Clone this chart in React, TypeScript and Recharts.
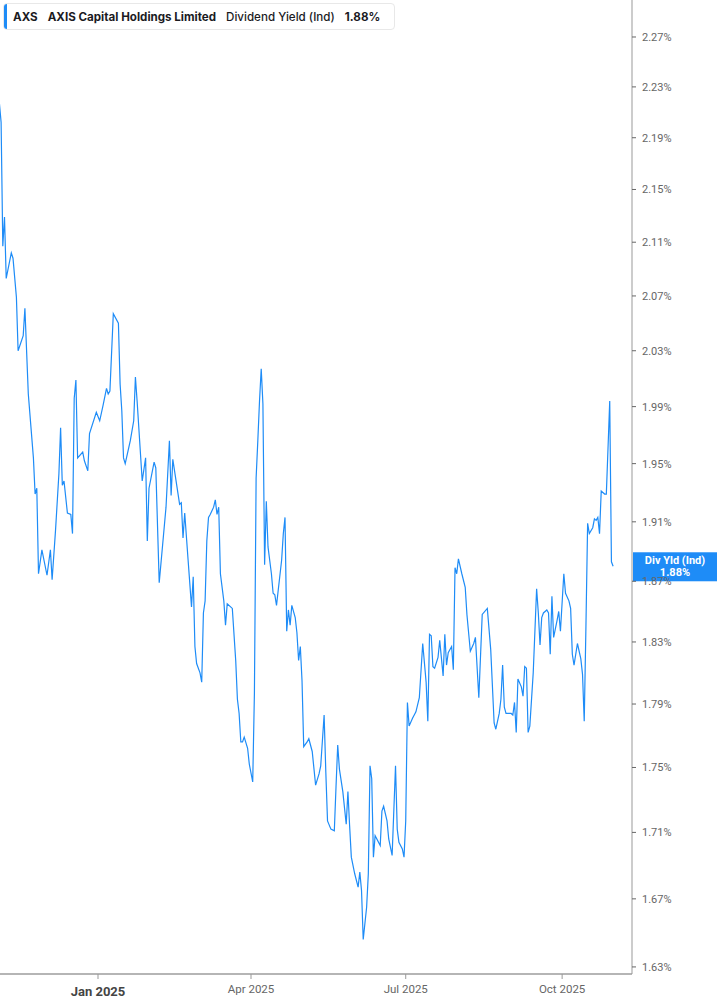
import { LineChart, Line, XAxis, YAxis, ReferenceLine } from 'recharts';

const dates = [
  '2024-11-04', '2024-11-05', '2024-11-06', '2024-11-07', '2024-11-08', '2024-11-11', '2024-11-12', '2024-11-14',
  '2024-11-15', '2024-11-18', '2024-11-19', '2024-11-21', '2024-11-24', '2024-11-25', '2024-11-26', '2024-11-27',
  '2024-11-29', '2024-12-02', '2024-12-04', '2024-12-05', '2024-12-07', '2024-12-09', '2024-12-10', '2024-12-11',
  '2024-12-12', '2024-12-14', '2024-12-16', '2024-12-17', '2024-12-18', '2024-12-19', '2024-12-20', '2024-12-23',
  '2024-12-24', '2024-12-26', '2024-12-27', '2024-12-31', '2025-01-02', '2025-01-04', '2025-01-06', '2025-01-07',
  '2025-01-08', '2025-01-10', '2025-01-13', '2025-01-14', '2025-01-15', '2025-01-16', '2025-01-17', '2025-01-20',
  '2025-01-22', '2025-01-23', '2025-01-24', '2025-01-27', '2025-01-29', '2025-01-30', '2025-01-31', '2025-02-03',
  '2025-02-04', '2025-02-06', '2025-02-10', '2025-02-12', '2025-02-13', '2025-02-14', '2025-02-18', '2025-02-19',
  '2025-02-20', '2025-02-21', '2025-02-23', '2025-02-25', '2025-02-26', '2025-02-27', '2025-02-28', '2025-03-02',
  '2025-03-03', '2025-03-04', '2025-03-05', '2025-03-06', '2025-03-07', '2025-03-08', '2025-03-10', '2025-03-11',
  '2025-03-12', '2025-03-13', '2025-03-14', '2025-03-16', '2025-03-17', '2025-03-18', '2025-03-20', '2025-03-21',
  '2025-03-23', '2025-03-24', '2025-03-25', '2025-03-26', '2025-03-27', '2025-03-28', '2025-03-30', '2025-03-31',
  '2025-04-02', '2025-04-03', '2025-04-04', '2025-04-05', '2025-04-06', '2025-04-07', '2025-04-08', '2025-04-09',
  '2025-04-10', '2025-04-11', '2025-04-13', '2025-04-14', '2025-04-15', '2025-04-16', '2025-04-17', '2025-04-19',
  '2025-04-20', '2025-04-21', '2025-04-22', '2025-04-23', '2025-04-24', '2025-04-25', '2025-04-27', '2025-04-28',
  '2025-04-29', '2025-04-30', '2025-05-01', '2025-05-02', '2025-05-04', '2025-05-05', '2025-05-07', '2025-05-09',
  '2025-05-11', '2025-05-12', '2025-05-14', '2025-05-15', '2025-05-16', '2025-05-18', '2025-05-20', '2025-05-21',
  '2025-05-22', '2025-05-23', '2025-05-25', '2025-05-27', '2025-05-28', '2025-05-29', '2025-05-30', '2025-06-01',
  '2025-06-03', '2025-06-04', '2025-06-05', '2025-06-06', '2025-06-08', '2025-06-09', '2025-06-10', '2025-06-11',
  '2025-06-12', '2025-06-13', '2025-06-16', '2025-06-17', '2025-06-18', '2025-06-20', '2025-06-21', '2025-06-23',
  '2025-06-25', '2025-06-26', '2025-06-27', '2025-06-29', '2025-06-30', '2025-07-01', '2025-07-02', '2025-07-03',
  '2025-07-05', '2025-07-07', '2025-07-09', '2025-07-11', '2025-07-13', '2025-07-14', '2025-07-15', '2025-07-16',
  '2025-07-17', '2025-07-18', '2025-07-20', '2025-07-21', '2025-07-23', '2025-07-24', '2025-07-25', '2025-07-26',
  '2025-07-28', '2025-07-29', '2025-07-30', '2025-07-31', '2025-08-01', '2025-08-03', '2025-08-05', '2025-08-06',
  '2025-08-08', '2025-08-10', '2025-08-11', '2025-08-13', '2025-08-15', '2025-08-18', '2025-08-20', '2025-08-22',
  '2025-08-23', '2025-08-25', '2025-08-26', '2025-08-27', '2025-08-28', '2025-08-29', '2025-08-30', '2025-09-01',
  '2025-09-02', '2025-09-03', '2025-09-04', '2025-09-05', '2025-09-07', '2025-09-08', '2025-09-09', '2025-09-10',
  '2025-09-11', '2025-09-12', '2025-09-14', '2025-09-16', '2025-09-17', '2025-09-18', '2025-09-19', '2025-09-20',
  '2025-09-22', '2025-09-23', '2025-09-24', '2025-09-25', '2025-09-26', '2025-09-28', '2025-09-29', '2025-09-30',
  '2025-10-02', '2025-10-03', '2025-10-05', '2025-10-06', '2025-10-07', '2025-10-08', '2025-10-10', '2025-10-12',
  '2025-10-13', '2025-10-14', '2025-10-15', '2025-10-16', '2025-10-17', '2025-10-19', '2025-10-20', '2025-10-21',
  '2025-10-22', '2025-10-23', '2025-10-24', '2025-10-26', '2025-10-27', '2025-10-28', '2025-10-29', '2025-10-30',
  '2025-10-31',
];

// dividend yield, %
const yields = [
  2.217, 2.202, 2.107, 2.129, 2.083, 2.102, 2.098, 2.069,
  2.030, 2.041, 2.061, 1.999, 1.954, 1.929, 1.933, 1.875,
  1.891, 1.874, 1.891, 1.871, 1.904, 1.943, 1.975, 1.935,
  1.938, 1.916, 1.915, 1.902, 1.996, 2.009, 1.954, 1.958,
  1.952, 1.945, 1.971, 1.986, 1.980, 1.991, 2.003, 1.999,
  2.001, 2.057, 2.050, 2.006, 1.987, 1.954, 1.950, 1.966,
  1.980, 2.011, 1.994, 1.938, 1.954, 1.897, 1.933, 1.951,
  1.947, 1.869, 1.920, 1.966, 1.928, 1.953, 1.922, 1.923,
  1.899, 1.916, 1.884, 1.853, 1.873, 1.827, 1.816, 1.810,
  1.804, 1.849, 1.857, 1.897, 1.913, 1.915, 1.920, 1.925,
  1.915, 1.920, 1.875, 1.857, 1.841, 1.855, 1.853, 1.852,
  1.818, 1.793, 1.784, 1.766, 1.766, 1.769, 1.762, 1.752,
  1.741, 1.797, 1.940, 1.966, 1.994, 2.017, 1.992, 1.881,
  1.924, 1.893, 1.875, 1.862, 1.861, 1.854, 1.864, 1.884,
  1.902, 1.913, 1.837, 1.851, 1.841, 1.854, 1.846, 1.836,
  1.818, 1.827, 1.805, 1.763, 1.766, 1.768, 1.760, 1.739,
  1.746, 1.751, 1.783, 1.747, 1.717, 1.712, 1.711, 1.738,
  1.764, 1.749, 1.735, 1.715, 1.735, 1.714, 1.695, 1.685,
  1.677, 1.686, 1.675, 1.646, 1.665, 1.685, 1.751, 1.743,
  1.695, 1.708, 1.702, 1.723, 1.726, 1.717, 1.706, 1.696,
  1.751, 1.712, 1.704, 1.700, 1.695, 1.717, 1.791, 1.776,
  1.781, 1.785, 1.794, 1.829, 1.804, 1.779, 1.835, 1.834,
  1.814, 1.813, 1.820, 1.831, 1.808, 1.835, 1.815, 1.823,
  1.827, 1.812, 1.879, 1.875, 1.885, 1.875, 1.866, 1.848,
  1.824, 1.829, 1.833, 1.794, 1.848, 1.852, 1.825, 1.778,
  1.774, 1.784, 1.793, 1.815, 1.788, 1.784, 1.784, 1.784,
  1.783, 1.791, 1.772, 1.806, 1.801, 1.795, 1.814, 1.813,
  1.772, 1.776, 1.810, 1.865, 1.849, 1.828, 1.846, 1.849,
  1.851, 1.849, 1.822, 1.860, 1.833, 1.844, 1.850, 1.837,
  1.875, 1.862, 1.857, 1.852, 1.822, 1.815, 1.829, 1.819,
  1.809, 1.779, 1.840, 1.909, 1.902, 1.906, 1.912, 1.911,
  1.913, 1.902, 1.931, 1.929, 1.929, 1.961, 1.994, 1.883,
  1.880,
];

const yTicks = [1.63, 1.67, 1.71, 1.75, 1.79, 1.83, 1.87, 1.91, 1.95, 1.99, 2.03, 2.07, 2.11, 2.15, 2.19, 2.23, 2.27];
const xTickDates = ['2025-01-01', '2025-04-01', '2025-07-01', '2025-10-01'];
const months = ['Jan', 'Feb', 'Mar', 'Apr', 'May', 'Jun', 'Jul', 'Aug', 'Sep', 'Oct', 'Nov', 'Dec'];

const DAY = 86400000;
const toTs = (d: string) => Date.parse(d + 'T00:00:00Z');
const JAN1 = toTs('2025-01-01');
const xDomain = [JAN1 - 57.65 * DAY, JAN1 + 314.1 * DAY];

const data = dates.map((d, i) => ({ t: toTs(d), v: yields[i] }));
const last = yields[yields.length - 1];
const BLUE = '#1e8cf7';

const XTick = (props: any) => {
  const { x, y, payload } = props;
  const dt = new Date(payload.value);
  const isJan = dt.getUTCMonth() === 0;
  return (
    <text
      x={x}
      y={y}
      dy={isJan ? 17 : 14}
      textAnchor="middle"
      fontFamily="Roboto"
      fontSize={isJan ? 13 : 11.5}
      fontWeight={isJan ? 700 : 400}
      fill={isJan ? '#444' : '#666'}
    >
      {`${months[dt.getUTCMonth()]} ${dt.getUTCFullYear()}`}
    </text>
  );
};

const LastValueTag = (props: any) => {
  const { viewBox } = props;
  const x = viewBox.x + viewBox.width + 1;
  const y = viewBox.y;
  return (
    <g>
      <rect x={x} y={y - 14} width={85} height={29} fill={BLUE} />
      <text x={x + 42} y={y - 2} textAnchor="middle" fontFamily="Roboto" fontSize={11} fontWeight={700} fill="#fff">
        Div Yld (Ind)
      </text>
      <text x={x + 42} y={y + 10} textAnchor="middle" fontFamily="Roboto" fontSize={11} fontWeight={700} fill="#fff">
        {`${last.toFixed(2)}%`}
      </text>
    </g>
  );
};

export default function App() {
  return (
    <div style={{ position: 'absolute', left: 0, top: 0, width: 717, height: 1005, background: '#fff' }}>
      <LineChart width={717} height={1005} data={data} margin={{ top: 0, right: 0, bottom: 0, left: 0 }}>
        <XAxis
          dataKey="t"
          type="number"
          scale="time"
          domain={xDomain}
          ticks={xTickDates.map(toTs)}
          allowDataOverflow
          height={31}
          tickSize={5}
          tickMargin={0}
          stroke="#b5b5b5"
          axisLine={{ stroke: '#b5b5b5', strokeWidth: 2 }}
          tickLine={{ stroke: '#999' }}
          tick={<XTick />}
        />
        <YAxis
          orientation="right"
          scale="log"
          domain={[1.6259, 2.3001]}
          allowDataOverflow
          ticks={yTicks}
          width={85}
          tickSize={4}
          tickMargin={6}
          axisLine={{ stroke: '#999' }}
          tickLine={{ stroke: '#666' }}
          tick={{ fill: '#666', fontSize: 11, fontFamily: 'Roboto' }}
          tickFormatter={(v: number) => `${v.toFixed(2)}%`}
        />
        <Line
          type="linear"
          dataKey="v"
          stroke={BLUE}
          strokeWidth={1.2}
          dot={false}
          activeDot={false}
          isAnimationActive={false}
        />
        <ReferenceLine y={last} stroke="none" ifOverflow="visible" label={<LastValueTag />} />
      </LineChart>
      <div
        style={{
          position: 'absolute',
          left: 3,
          top: 3,
          width: 392,
          height: 27,
          boxSizing: 'border-box',
          border: '1px solid #e8e8e8',
          borderRadius: 4,
          background: '#fff',
          display: 'flex',
          alignItems: 'center',
          fontFamily: 'Inter',
          fontSize: 11.6,
          color: '#1b1b1f',
          whiteSpace: 'nowrap',
        }}
      >
        <div style={{ position: 'absolute', left: 0, top: 0, bottom: 0, width: 3, background: BLUE, borderRadius: '3px 0 0 3px' }} />
        <span style={{ marginLeft: 9, fontWeight: 700 }}>AXS</span>
        <span style={{ marginLeft: 10, fontWeight: 700 }}>AXIS Capital Holdings Limited</span>
        <span style={{ marginLeft: 10, fontWeight: 500 }}>Dividend Yield (Ind)</span>
        <span style={{ marginLeft: 10, fontWeight: 700 }}>1.88%</span>
      </div>
    </div>
  );
}
